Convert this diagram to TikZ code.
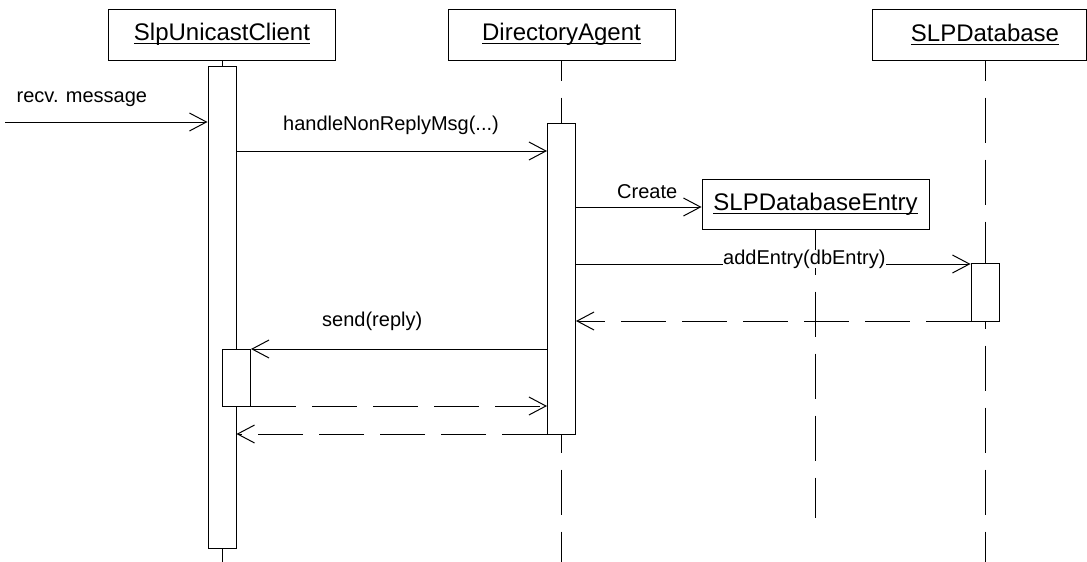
\documentclass[tikz,border=0pt]{standalone}
\usepackage{fontspec}
\setmainfont{Liberation Sans}
\usetikzlibrary{arrows.meta}
\newcommand{\objname}[1]{\setbox0\hbox{#1}\rlap{\rule[-3.5pt]{\wd0}{1.1pt}}\box0}

\begin{document}
\begin{tikzpicture}[x=1pt,y=-1pt,
    obj/.style={draw, line width=1pt, minimum width=227pt, minimum height=51pt, inner sep=0pt, font=\fontsize{24}{28}\selectfont},
    act/.style={draw, fill=white, line width=1pt, minimum width=28pt, inner sep=0pt},
    life/.style={line width=1pt, dash pattern=on 45pt off 17pt, dash phase=25pt},
    msg/.style={line width=1pt, -{Straight Barb[length=17pt,width=18pt]}},
    ret/.style={msg, dash pattern=on 45pt off 16pt},
    lbl/.style={font=\fontsize{20}{24}\selectfont, inner sep=0pt}]

        \useasboundingbox (0,0) rectangle (1087,562);

        % objects
        \node[obj] (client) at (222,34.5) {\objname{SlpUnicastClient}};
        \node[obj] (agent) at (561.5,34.5) {\objname{DirectoryAgent}};
        \node[obj, minimum width=214pt] (db) at (979,34.5) {\hspace*{12pt}\objname{SLPDatabase}};
        \node[obj, minimum height=50pt] (entry) at (815.5,204) {\objname{SLPDatabaseEntry}};

        % lifelines
        \coordinate (clientEnd) at (222,562);
        \coordinate (agentEnd) at (561.5,562);
        \coordinate (dbEnd) at (985,562);
        \coordinate (entryEnd) at (815.5,518);
        \draw[life] (client.south) -- (clientEnd);
        \draw[life] (agent.south) -- (agentEnd);
        \draw[life] (db.south -| dbEnd) -- (dbEnd);
        \draw[life, dash phase=0pt] (entry.south) -- (entryEnd);

        % activations
        \node[act, minimum height=482pt] (cAct) at (222,307) {};
        \node[act, minimum height=311pt] (aAct) at (561.5,278.5) {};
        \node[act, minimum height=58pt] (dbAct) at (985,292) {};
        \node[act, minimum height=57pt] (cAct2) at (236.5,377.5) {};

        % messages
        \coordinate (src) at (5,122);
        \draw[msg] (src) -- (cAct.west |- src);
        \draw[msg] (cAct.east |- 0,151) -- (aAct.west |- 0,151);
        \draw[msg] (aAct.east |- 0,207) -- (entry.west |- 0,207);
        \draw[msg] (aAct.east |- 0,264) -- (dbAct.west |- 0,264);
        \draw[ret] (dbAct.west |- 0,321) -- (aAct.east |- 0,321);
        \draw[msg] (aAct.west |- 0,349) -- (cAct2.east |- 0,349);
        \draw[ret] (cAct2.east |- 0,406) -- (aAct.west |- 0,406);
        \draw[ret] (aAct.west |- 0,434) -- (cAct.east |- 0,434);

        % labels
        \node[lbl, anchor=base west] (recvLbl) at (16.5,102.7) {recv. message};
        \node[lbl, anchor=base] (handleLbl) at (391,130) {handleNonReplyMsg(...)};
        \node[lbl, anchor=base west] (createLbl) at (617,198) {Create};
        \node[lbl, anchor=base west, fill=white] (addLbl) at (723,264) {addEntry(dbEntry)};
        \node[lbl, anchor=base west] (sendLbl) at (322,326.7) {send(reply)};

\end{tikzpicture}
\end{document}
